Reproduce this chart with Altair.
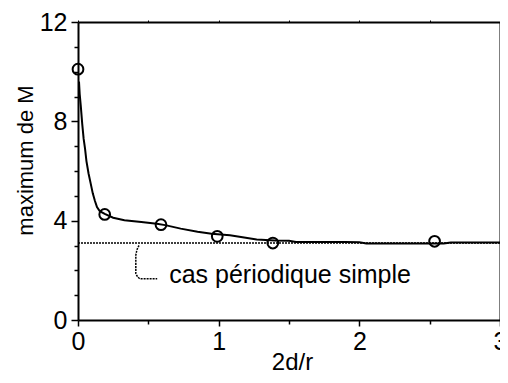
import altair as alt
import pandas as pd

# Simulated curve (solid line)
curve_x = [0.007, 0.012, 0.02, 0.03, 0.04, 0.05, 0.06, 0.075, 0.09, 0.105, 0.12, 0.135, 0.155,
           0.19, 0.25, 0.33, 0.45, 0.56, 0.62, 0.73, 0.85, 0.95, 1.08, 1.17, 1.27, 1.40, 1.50,
           1.55, 1.90, 2.00, 2.05, 2.60, 2.65, 3.0]
curve_y = [9.6, 9.1, 8.6, 7.9, 7.3, 6.9, 6.4, 5.9, 5.5, 5.1, 4.8, 4.55, 4.38,
           4.27, 4.12, 4.02, 3.95, 3.88, 3.82, 3.68, 3.55, 3.47, 3.41, 3.33, 3.24, 3.20, 3.19,
           3.14, 3.14, 3.13, 3.08, 3.08, 3.12, 3.12]

# Open circles (data points)
pts_x = [0.0, 0.19, 0.59, 0.99, 1.385, 2.535]
pts_y = [10.1, 4.25, 3.84, 3.37, 3.10, 3.17]

# Simple periodic case level
periodic_level = 3.10
periodic_x = [0.0, 3.0]

# Annotation
annot_text = "cas périodique simple"
annot_x = [0.648]
annot_y = [1.47]
leader_x = [0.434, 0.411, 0.411, 0.446, 0.563]
leader_y = [3.0, 2.6, 1.86, 1.66, 1.66]

x_ticks = [0, 0.5, 1, 1.5, 2, 2.5, 3]
y_ticks = list(range(0, 13))

FONT = "Liberation Sans"

curve_df = pd.DataFrame({"x": curve_x, "y": curve_y, "o": range(len(curve_x))})
pts_df = pd.DataFrame({"x": pts_x, "y": pts_y})
per_df = pd.DataFrame({"x": periodic_x, "y": [periodic_level] * len(periodic_x)})
ann_df = pd.DataFrame({"x": annot_x, "y": annot_y, "t": [annot_text]})
lead_df = pd.DataFrame({"x": leader_x, "y": leader_y, "o": range(len(leader_x))})

xs = alt.Scale(domain=[0, 3], nice=False, zero=False)
ys = alt.Scale(domain=[0, 12], nice=False, zero=False)

x_axis_bottom = alt.Axis(
    values=x_ticks, title="2d/r", format="~g", domainColor="black", domainWidth=2,
    tickColor="black", tickWidth=1.5,
    tickSize={"condition": {"test": "datum.value % 1 === 0", "value": 6}, "value": 4},
    labelExpr="datum.value % 1 === 0 ? datum.label : ''",
    labelFont=FONT, labelFontSize=25, labelColor="black", labelPadding=3,
    titleFont=FONT, titleFontSize=24, titleFontWeight="normal", titleColor="black",
    titleBaseline="alphabetic", titleAlign="center", titleX=214, titleY=49,
    grid=False, labelFlush=False, labelOverlap=False,
)
y_axis_left = alt.Axis(
    values=y_ticks, title="maximum de M", format="~g", domainColor="black", domainWidth=2,
    tickColor="black", tickWidth=1.5,
    tickSize={"condition": {"test": "datum.value % 4 === 0", "value": 7}, "value": 4},
    labelExpr="datum.value % 4 === 0 ? datum.label : ''",
    labelFont=FONT, labelFontSize=25, labelColor="black", labelPadding=4,
    titleFont=FONT, titleFontSize=22, titleFontWeight="normal", titleColor="black",
    titleBaseline="alphabetic", titleAlign="center", titleAngle=270, titleX=-46, titleY=138,
    grid=False, labelFlush=False, labelOverlap=False,
)
x_axis_top = alt.Axis(orient="top", values=x_ticks, title=None, labels=False,
                      domainColor="black", domainWidth=2, tickColor="black",
                      tickSize=2, tickWidth=1, grid=False)
y_axis_right = alt.Axis(orient="right", values=y_ticks, title=None, labels=False,
                        domainColor="black", domainWidth=2, tickColor="black",
                        tickSize=4, tickWidth=1.5, grid=False)

periodic = alt.Chart(per_df).mark_line(color="black", strokeWidth=1.6, strokeDash=[2, 1]).encode(
    x=alt.X("x:Q", scale=xs, axis=x_axis_top),
    y=alt.Y("y:Q", scale=ys, axis=y_axis_right),
)

curve = alt.Chart(curve_df).mark_line(color="black", strokeWidth=2).encode(
    x=alt.X("x:Q", scale=xs, axis=x_axis_bottom),
    y=alt.Y("y:Q", scale=ys, axis=y_axis_left),
    order="o:Q",
)

points = alt.Chart(pts_df).mark_point(shape="circle", filled=False, color="black",
                                       size=115, strokeWidth=2, opacity=1).encode(
    x=alt.X("x:Q", scale=xs, axis=None),
    y=alt.Y("y:Q", scale=ys, axis=None),
)

leader = alt.Chart(lead_df).mark_line(color="black", strokeWidth=1.5, strokeDash=[2, 1],
                                      interpolate="monotone").encode(
    x=alt.X("x:Q", scale=xs, axis=None),
    y=alt.Y("y:Q", scale=ys, axis=None),
    order="o:Q",
)

annot = alt.Chart(ann_df).mark_text(align="left", baseline="alphabetic", font=FONT,
                                     fontSize=25, color="black").encode(
    x=alt.X("x:Q", scale=xs, axis=None),
    y=alt.Y("y:Q", scale=ys, axis=None),
    text="t:N",
)

chart = alt.layer(periodic, curve, points, leader, annot).resolve_axis(
    x="independent", y="independent"
).properties(
    width=422, height=298,
    autosize=alt.AutoSizeParams(type="none"),
    padding={"left": 70, "top": 14, "right": 0, "bottom": 55},
    background="white",
).configure_view(stroke=None)

chart.save("out.html", embed_options={"renderer": "svg", "actions": False})
